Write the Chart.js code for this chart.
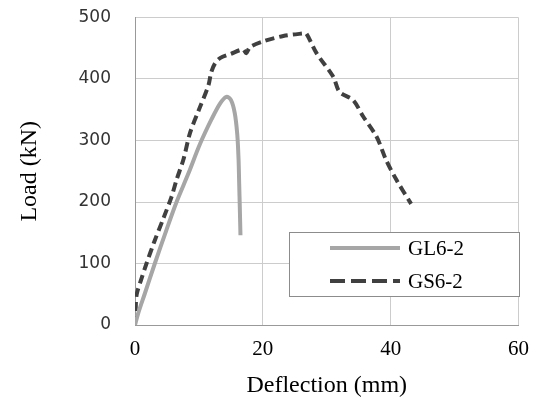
<!DOCTYPE html>
<html>
<head>
<meta charset="utf-8">
<script src="https://cdn.jsdelivr.net/npm/chart.js@4"></script>
<style>
  body { margin: 0; background: #fff; }
  canvas { display: block; }
</style>
</head>
<body>
<canvas id="loadChart" width="541" height="400"></canvas>
<script>
// Load-deflection curves for the two specimens
const seriesNames = ['GL6-2', 'GS6-2'];

const gl62Deflection = [0, 0.5, 1.5, 3.1, 4.9, 6.5, 8.3, 10.2, 12.0, 13.3, 14.3, 15.0, 15.6, 16.0, 16.2, 16.3, 16.4, 16.5];
const gl62Load = [0, 19, 50, 100, 154, 200, 245, 295, 335, 360, 371, 366, 345, 310, 270, 230, 190, 146];

const gs62Deflection = [0, 0.1, 0.27, 1.0, 1.8, 3.0, 4.5, 5.7, 6.5, 7.6, 8.6, 10.0, 11.5, 11.9, 12.5, 13.3, 15.0, 16.9, 17.4, 18.0, 20.0, 23.2, 26.3, 26.8, 28.4, 31.0, 32.0, 34.1, 35.7, 37.8, 39.3, 40.9, 43.2];
const gs62Load = [0, 25, 50, 75, 100, 135, 175, 208, 236, 270, 312, 350, 390, 410, 425, 434, 441, 448, 442, 452, 461, 470, 474, 474, 442, 404, 379, 366, 339, 306, 268, 236, 197];

const xTicks = [0, 20, 40, 60];
const yTicks = [0, 100, 200, 300, 400, 500];

const toPoints = (xs, ys) => xs.map((x, i) => ({ x: x, y: ys[i] }));

// Boxed legend sitting over the lower right of the plot
const boxLegend = {
  id: 'boxLegend',
  afterDatasetsDraw(chart) {
    const ctx = chart.ctx;
    const box = { x: 289.5, y: 232.5, w: 230, h: 64 };
    ctx.save();
    ctx.fillStyle = '#ffffff';
    ctx.fillRect(box.x, box.y, box.w, box.h);
    ctx.strokeStyle = '#8c8c8c';
    ctx.lineWidth = 1;
    ctx.strokeRect(box.x, box.y, box.w, box.h);

    chart.data.datasets.forEach((ds, i) => {
      const y = 248 + i * 33;
      ctx.beginPath();
      ctx.strokeStyle = ds.borderColor;
      ctx.lineWidth = ds.borderWidth;
      ctx.setLineDash(ds.borderDash.length ? [15, 6] : []);
      ctx.moveTo(330, y);
      ctx.lineTo(400, y);
      ctx.stroke();
      ctx.setLineDash([]);
      ctx.fillStyle = '#000000';
      ctx.font = '21px "Liberation Serif"';
      ctx.textBaseline = 'middle';
      ctx.fillText(ds.label, 408, y + 1);
    });
    ctx.restore();
  }
};

new Chart(document.getElementById('loadChart'), {
  type: 'line',
  data: {
    datasets: [
      {
        label: seriesNames[0],
        data: toPoints(gl62Deflection, gl62Load),
        borderColor: '#a6a6a6',
        borderWidth: 4,
        borderDash: [],
        pointRadius: 0,
        tension: 0.3,
        fill: false
      },
      {
        label: seriesNames[1],
        data: toPoints(gs62Deflection, gs62Load),
        borderColor: '#404040',
        borderWidth: 4,
        borderDash: [9, 5],
        pointRadius: 0,
        tension: 0.3,
        fill: false
      }
    ]
  },
  options: {
    responsive: false,
    animation: false,
    layout: { padding: { top: 0, right: 21, left: 0, bottom: 0 } },
    plugins: {
      legend: { display: false },
      tooltip: { enabled: false }
    },
    scales: {
      x: {
        type: 'linear',
        min: 0,
        max: 60,
        afterBuildTicks: (axis) => { axis.ticks = xTicks.map(v => ({ value: v })); },
        afterFit: (axis) => { axis.height = 75; },
        grid: { color: '#cccccc', drawTicks: false },
        border: { color: '#999999', width: 1 },
        ticks: {
          padding: 12,
          color: '#000000',
          font: { family: '"Liberation Serif"', size: 21 }
        },
        title: {
          display: true,
          text: 'Deflection (mm)',
          color: '#000000',
          font: { family: '"Liberation Serif"', size: 24 },
          padding: { top: 0, bottom: 0 }
        }
      },
      y: {
        min: 0,
        max: 500,
        afterBuildTicks: (axis) => { axis.ticks = yTicks.map(v => ({ value: v })); },
        afterFit: (axis) => {
          axis.width = 135;
          // tick padding would otherwise also push the plot down
          axis.paddingTop = 17.5;
          axis.paddingBottom = 10;
        },
        grid: { color: '#cccccc', drawTicks: false },
        border: { color: '#999999', width: 1 },
        ticks: {
          padding: 24,
          color: '#333333',
          font: { family: '"DejaVu Sans"', size: 17 }
        },
        title: {
          display: true,
          text: 'Load (kN)',
          color: '#000000',
          font: { family: '"Liberation Serif"', size: 24 },
          padding: { top: 15, bottom: 0 }
        }
      }
    }
  },
  plugins: [boxLegend]
});
</script>
</body>
</html>
